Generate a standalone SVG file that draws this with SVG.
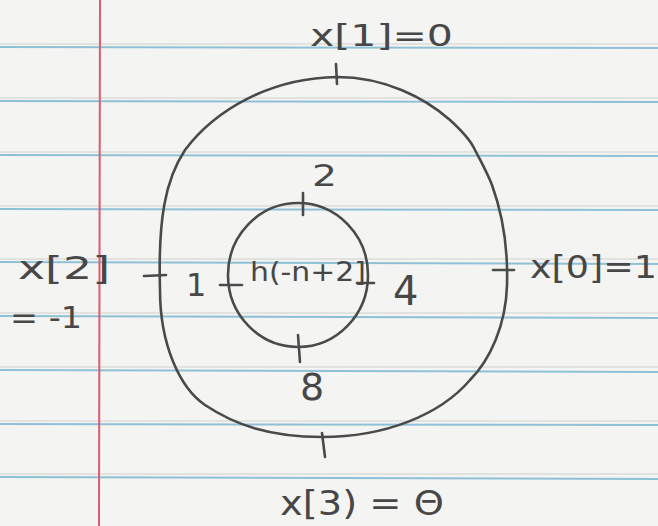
<svg xmlns="http://www.w3.org/2000/svg" width="658" height="526" viewBox="0 0 658 526">
  <style>
    .rule { stroke: #8fc1d6; stroke-width: 2; }
    .ghost { stroke: #dcdcd8; stroke-width: 1.5; }
    .margin { stroke: #dc5a72; stroke-width: 2; }
    .pencil { fill: none; stroke: #4a4a4a; stroke-width: 2.6; stroke-linecap: round; stroke-linejoin: round; }
    .hand { font-family: "DejaVu Sans", "Liberation Sans", sans-serif; fill: #474747; }
  </style>
  <rect x="0" y="0" width="658" height="526" fill="#f4f4f2"/>
  <g id="paper">
    <line class="ghost" x1="0" y1="44" x2="658" y2="44"/>
    <line class="ghost" x1="0" y1="98" x2="658" y2="98"/>
    <line class="ghost" x1="0" y1="152" x2="658" y2="152"/>
    <line class="ghost" x1="0" y1="206" x2="658" y2="206"/>
    <line class="ghost" x1="0" y1="259" x2="658" y2="259"/>
    <line class="ghost" x1="0" y1="313" x2="658" y2="313"/>
    <line class="ghost" x1="0" y1="367" x2="658" y2="367"/>
    <line class="ghost" x1="0" y1="421" x2="658" y2="421"/>
    <line class="ghost" x1="0" y1="474" x2="658" y2="474"/>
    <line class="rule" x1="0" y1="47" x2="658" y2="48"/>
    <line class="rule" x1="0" y1="101" x2="658" y2="102"/>
    <line class="rule" x1="0" y1="155" x2="658" y2="156"/>
    <line class="rule" x1="0" y1="209" x2="658" y2="210"/>
    <line class="rule" x1="0" y1="262" x2="658" y2="264"/>
    <line class="rule" x1="0" y1="316" x2="658" y2="318"/>
    <line class="rule" x1="0" y1="370" x2="658" y2="372"/>
    <line class="rule" x1="0" y1="424" x2="658" y2="425"/>
    <line class="rule" x1="0" y1="477" x2="658" y2="479"/>
    <line class="margin" x1="100" y1="0" x2="99" y2="526"/>
  </g>
  <g id="outer">
    <path class="pencil" d="M 337 77 C 385 77, 425 98, 450 120 C 462 131, 470 140, 474 148 C 480 160, 486 170, 492 185 C 504 218, 508 250, 507 285 C 506 325, 490 360, 470 380 C 440 415, 385 437, 322 437 C 270 437, 235 425, 205 405 C 180 388, 160 345, 160 290 C 158 220, 165 180, 185 150 C 215 110, 270 78, 337 77 Z"/>
    <path class="pencil" d="M 336 64 L 337 84"/>
    <path class="pencil" d="M 322 433 L 325 457"/>
    <path class="pencil" d="M 144 276 L 166 275"/>
    <path class="pencil" d="M 493 270 L 514 270"/>
  </g>
  <g id="inner">
    <ellipse class="pencil" cx="298" cy="275" rx="70" ry="72"/>
    <path class="pencil" d="M 303 193 L 303 215"/>
    <path class="pencil" d="M 298 335 L 300 362"/>
    <path class="pencil" d="M 220 285 L 242 285"/>
    <path class="pencil" d="M 357 283 L 374 283"/>
    <text class="hand" x="250" y="281" font-size="27" textLength="116" lengthAdjust="spacingAndGlyphs">h(-n+2]</text>
  </g>
  <g id="labels">
    <text class="hand" x="310" y="46" font-size="30" textLength="143" lengthAdjust="spacingAndGlyphs">x[1]=0</text>
    <text class="hand" x="18" y="279" font-size="32" textLength="92" lengthAdjust="spacingAndGlyphs">x[2]</text>
    <text class="hand" x="10" y="328" font-size="30" textLength="72" lengthAdjust="spacingAndGlyphs">= -1</text>
    <text class="hand" x="186" y="296" font-size="32">1</text>
    <text class="hand" x="312" y="186" font-size="30" textLength="25" lengthAdjust="spacingAndGlyphs">2</text>
    <text class="hand" x="393" y="305" font-size="40">4</text>
    <text class="hand" x="300" y="400" font-size="38">8</text>
    <text class="hand" x="530" y="278" font-size="32" textLength="127" lengthAdjust="spacingAndGlyphs">x[0]=1</text>
    <text class="hand" x="280" y="515" font-size="33" textLength="164" lengthAdjust="spacingAndGlyphs">x[3) = Θ</text>
  </g>
</svg>
